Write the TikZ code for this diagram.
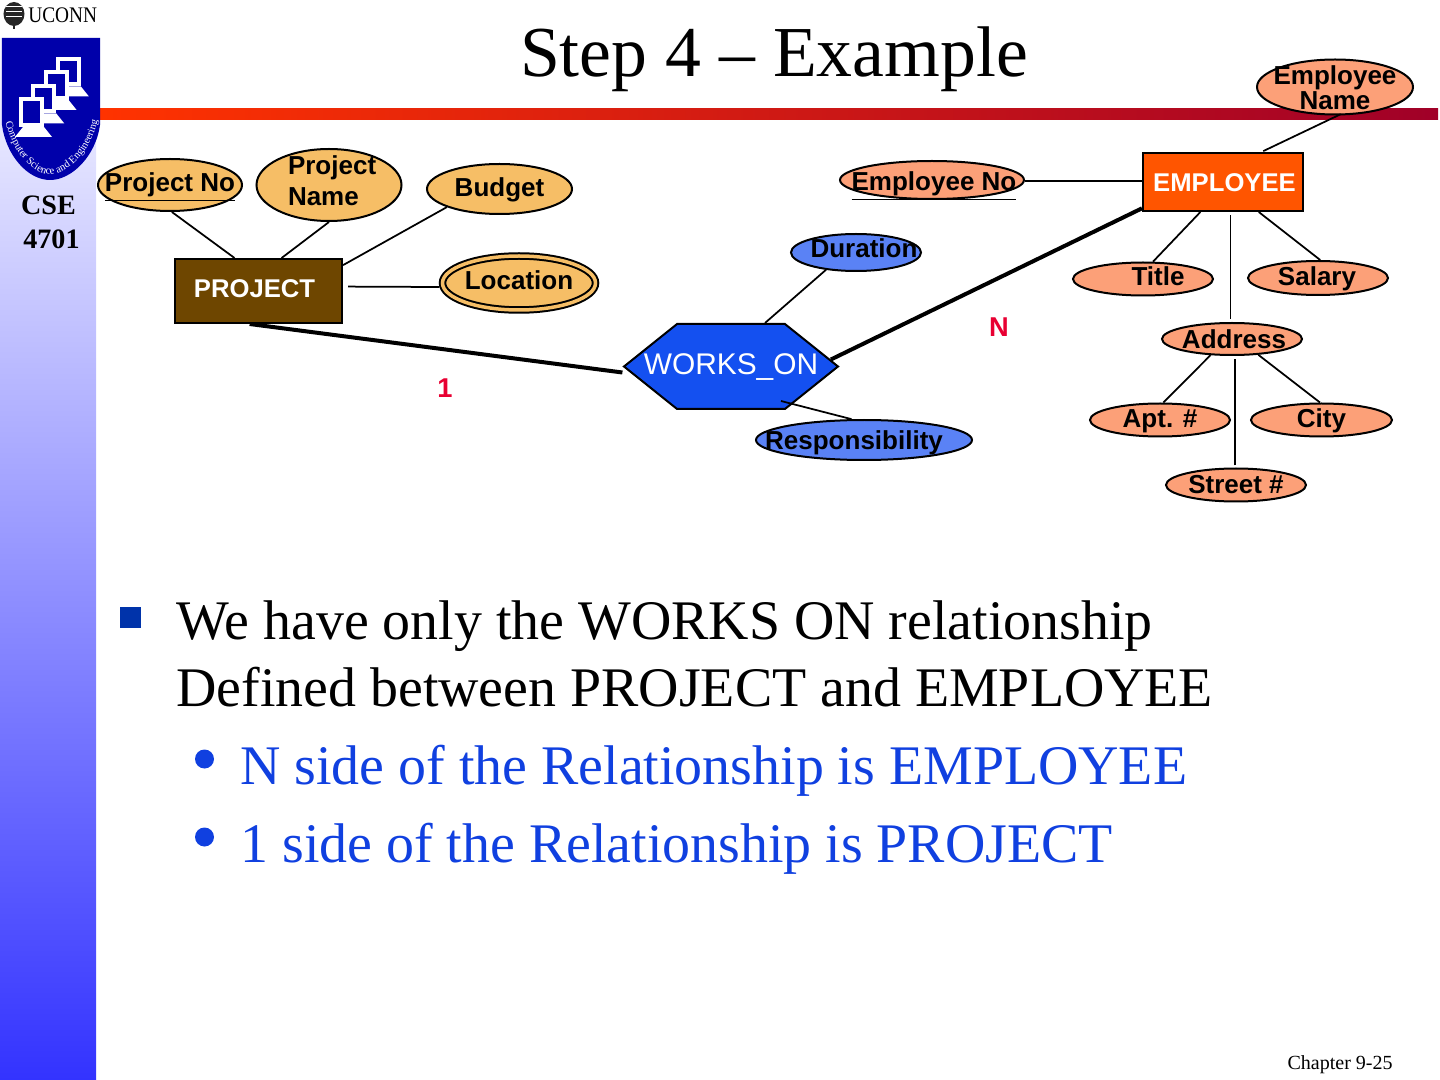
\documentclass[tikz,border=0pt]{standalone}
\usepackage{fontspec}
\setmainfont{Liberation Serif}
\setsansfont{Liberation Sans}
\usetikzlibrary{shapes.geometric,shapes.symbols,decorations.text}

\definecolor{projfill}{RGB}{110,70,0}
\definecolor{projattr}{RGB}{246,190,102}
\definecolor{empfill}{RGB}{255,85,0}
\definecolor{empattr}{RGB}{252,160,120}
\definecolor{relfill}{RGB}{20,80,240}
\definecolor{relattr}{RGB}{90,130,245}
\definecolor{cardred}{RGB}{232,0,50}
\definecolor{subblue}{RGB}{16,64,224}
\definecolor{bulletblue}{RGB}{0,51,170}
\definecolor{logoblue}{RGB}{0,0,170}

% text that does not push the shape wider: {dx}{baseline drop}{text}
\newcommand{\shapetext}[3]{\makebox[0pt]{\hspace*{#1}\raisebox{\dimexpr#2-0.02cm\relax}[0pt][0pt]{#3}}}

\tikzset{
  attr/.style={ellipse, draw=black, line width=0.04cm, inner sep=0pt, text=black,
    font=\fontsize{14.8}{17.6}\selectfont\sffamily\bfseries},
  entity/.style={rectangle, draw=black, line width=0.04cm, inner sep=0pt, text=white,
    font=\fontsize{14.6}{17}\selectfont\sffamily\bfseries},
  link/.style={draw=black, line width=0.035cm},
  total/.style={draw=black, line width=0.08cm},
  card/.style={text=cardred, inner sep=0pt, font=\fontsize{15.5}{17}\selectfont\sffamily\bfseries},
  bodyline/.style={anchor=base west, inner sep=0pt, font=\fontsize{31.8}{38}\selectfont},
  subline/.style={anchor=base west, inner sep=0pt, text=subblue, font=\fontsize{31.8}{38}\selectfont}
}

\begin{document}
\begin{tikzpicture}
	\useasboundingbox (0,0) rectangle (28.8,-21.6);

	% side strip and header bar
	\shade[top color=white, bottom color={rgb,255:red,51;green,51;blue,255}] (0,0) rectangle (1.92,-21.6);
	\fill[white] (0,0) rectangle (1.92,-0.76);
	\shade[left color={rgb,255:red,255;green,51;blue,0}, right color={rgb,255:red,160;green,0;blue,40}] (2.00,-2.17) rectangle (28.76,-2.40);

	% uconn mark
	\fill[black!85] (0.28,-0.28) ellipse (0.21 and 0.24);
	\fill[black!85] (0.25,-0.48) rectangle (0.31,-0.58);
	\foreach \n in {-0.14,-0.24,-0.34}
		\draw[white, line width=0.02cm] (0.12,\n) -- (0.44,\n);
	\node[anchor=base west, inner sep=0pt, yscale=1.15, transform shape, font=\fontsize{11}{13}\selectfont] (uconn) at (0.56,-0.46) {UCONN};

	% shield
	\fill[logoblue] (0.04,-0.76) -- (2.00,-0.76) -- (2.00,-2.5)
		.. controls (1.92,-3.1) and (1.45,-3.6) .. (1.00,-3.6)
		.. controls (0.55,-3.6) and (0.12,-3.1) .. (0.04,-2.5) -- cycle;
	\foreach \n in {3,2,1,0} {
		\begin{scope}[shift={(\n*0.246,\n*0.27)}]
			\fill[white] (0.30,-2.74) -- (1.04,-2.74) -- (0.88,-2.54) -- (0.46,-2.54) -- cycle;
			\draw[draw=white, line width=0.08cm, fill=logoblue] (0.42,-1.99) rectangle (0.84,-2.50);
		\end{scope}
	}
	\path[decorate, decoration={text along path, text align=center,
		text={|\fontsize{6}{7}\selectfont\color{white}|Computer Science and Engineering}}]
		(0.10,-2.40) .. controls (0.28,-3.15) and (0.70,-3.47) .. (1.00,-3.49)
		.. controls (1.30,-3.47) and (1.80,-3.15) .. (1.96,-2.36);

	\node[inner sep=0pt, font=\fontsize{16}{19}\selectfont\bfseries] (course) at (0.97,-4.44) {\shortstack{CSE\\[0.2cm]\hspace*{0.12cm}4701}};

	\node[anchor=base, inner sep=0pt, font=\fontsize{40.8}{48}\selectfont] (heading) at (15.48,-1.54) {Step 4 -- Example};

	% project side
	\node[attr, fill=projattr, minimum width=2.88cm, minimum height=1.04cm] (pno) at (3.40,-3.70) {\shapetext{0cm}{-0.12cm}{\underline{Project No}}};
	\node[attr, fill=projattr, minimum width=2.90cm, minimum height=1.44cm] (pname) at (6.58,-3.70) {\shapetext{0.12cm}{-0.40cm}{\parbox[b]{1.76cm}{\raggedright\fontsize{14.8}{18}\selectfont Project\\Name}}};
	\node[attr, fill=projattr, minimum width=2.90cm, minimum height=1.00cm] (budget) at (9.99,-3.78) {\shapetext{0cm}{-0.14cm}{Budget}};
	\node[attr, fill=projattr, double=projattr, double distance=0.07cm, minimum width=3.06cm, minimum height=1.08cm] (location) at (10.38,-5.66) {\shapetext{0cm}{-0.12cm}{Location}};
	\node[entity, fill=projfill, minimum width=3.34cm, minimum height=1.28cm] (project) at (5.17,-5.82) {\shapetext{-0.16cm}{-0.12cm}{PROJECT}};

	% employee side
	\node[attr, fill=empattr, minimum width=3.68cm, minimum height=0.76cm] (empno) at (18.64,-3.60) {\shapetext{0.08cm}{-0.20cm}{\underline{Employee No}}};
	\node[attr, fill=empattr, minimum width=3.12cm, minimum height=1.10cm] (empname) at (26.70,-1.74) {\shapetext{0cm}{-0.44cm}{\parbox[b]{3cm}{\centering\fontsize{14.8}{14.4}\selectfont Employee\\Name}}};
	\node[entity, fill=empfill, minimum width=3.20cm, minimum height=1.16cm] (employee) at (24.46,-3.64) {\shapetext{0.06cm}{-0.18cm}{EMPLOYEE}};
	\node[attr, fill=empattr, minimum width=2.80cm, minimum height=0.66cm] (title) at (22.86,-5.58) {\shapetext{0.60cm}{-0.12cm}{Title}};
	\node[attr, fill=empattr, minimum width=2.80cm, minimum height=0.68cm] (salary) at (26.36,-5.56) {\shapetext{-0.04cm}{-0.14cm}{Salary}};
	\node[attr, fill=empattr, minimum width=2.80cm, minimum height=0.64cm] (address) at (24.64,-6.78) {\shapetext{0.08cm}{-0.18cm}{Address}};
	\node[attr, fill=empattr, minimum width=2.80cm, minimum height=0.66cm] (apt) at (23.20,-8.40) {\shapetext{0cm}{-0.14cm}{Apt. \#}};
	\node[attr, fill=empattr, minimum width=2.82cm, minimum height=0.66cm] (city) at (26.43,-8.40) {\shapetext{0cm}{-0.14cm}{City}};
	\node[attr, fill=empattr, minimum width=2.80cm, minimum height=0.66cm] (street) at (24.72,-9.70) {\shapetext{0cm}{-0.14cm}{Street \#}};

	% relationship
	\node[signal, signal to=west and east, signal pointer angle=77.4, draw=black, line width=0.04cm, fill=relfill, inner sep=0pt, text=white, font=\fontsize{17}{20}\selectfont\sffamily, minimum width=4.28cm, minimum height=1.70cm] (works) at (14.62,-7.33) {\shapetext{0cm}{-0.15cm}{WORKS\_ON}};
	\node[attr, fill=relattr, minimum width=2.60cm, minimum height=0.74cm] (duration) at (17.12,-5.05) {\shapetext{0.32cm}{-0.09cm}{Duration}};
	\node[attr, fill=relattr, minimum width=4.32cm, minimum height=0.80cm] (resp) at (17.28,-8.80) {\shapetext{-0.40cm}{-0.16cm}{Responsibility}};
	\coordinate (respend) at (15.62,-8.02);

	\node[card] (cardn) at (19.98,-6.54) {N};
	\node[card] (cardone) at (8.90,-7.76) {1};

	% connectors
	\draw[link] (pno.-86) -- (project.126);
	\draw[link] (pname.-90) -- (project.55);
	\draw[link] (budget.199) -- (project.17);
	\draw[link, shorten <=0.06cm, shorten >=0.10cm] (location.183) -- (project.3);
	\draw[total] (project.-105) -- ([yshift=-0.12cm]works.west);
	\draw[total] (works.4) -- (employee.198);
	\draw[link] (duration.210) -- (works.52);
	\draw[link] (resp.121) -- (respend);

	\draw[link] ([yshift=-0.02cm]empno.east) -- ([yshift=-0.02cm]empno.east -| employee.west);
	\draw[link, shorten <=-0.06cm, shorten >=0.04cm] (empname.-84) -- (employee.38);
	\draw[link] (title.60) -- (employee.233);
	\draw[link] (salary.83) -- (employee.-40);
	\draw[link, shorten <=0.06cm, shorten >=0.06cm] ([xshift=-0.03cm]address.north) -- ([xshift=-0.03cm]address.north |- employee.south);
	\draw[link] (apt.79) -- (address.217);
	\draw[link] (city.95) -- (address.-31);
	\draw[link, shorten <=0.04cm, shorten >=0.06cm] ([xshift=-0.02cm]street.north) -- ([xshift=-0.02cm]street.north |- address.south);

	% slide text
	\node[rectangle, fill=bulletblue, minimum size=0.42cm, inner sep=0pt] (sqbullet) at (2.60,-12.35) {};
	\node[bodyline] (bodyone) at (3.52,-12.78) {We have only the WORKS ON relationship};
	\node[bodyline] (bodytwo) at (3.52,-14.12) {Defined between PROJECT and EMPLOYEE};
	\node[circle, fill=subblue, minimum size=0.38cm, inner sep=0pt] (dotone) at (4.09,-15.18) {};
	\node[subline] (subone) at (4.80,-15.68) {N side of the Relationship is EMPLOYEE};
	\node[circle, fill=subblue, minimum size=0.38cm, inner sep=0pt] (dottwo) at (4.09,-16.74) {};
	\node[subline] (subtwo) at (4.80,-17.24) {1 side of the Relationship is PROJECT};

	\node[anchor=base east, inner sep=0pt, font=\fontsize{11.4}{14}\selectfont] (chapter) at (27.86,-21.38) {Chapter 9-25};

\end{tikzpicture}
\end{document}
